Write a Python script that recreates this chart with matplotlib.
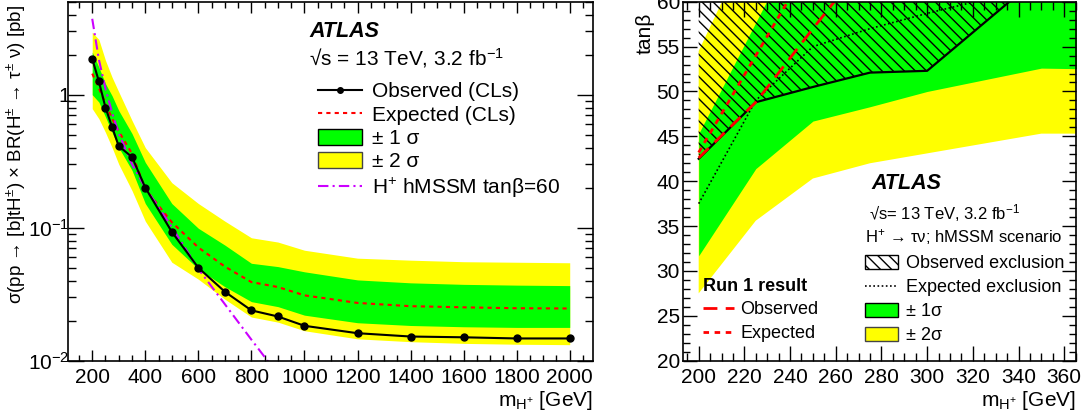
import matplotlib
matplotlib.use("Agg")
import matplotlib.pyplot as plt
from matplotlib.lines import Line2D
from matplotlib.patches import Patch
from matplotlib.ticker import MultipleLocator, FixedLocator, FixedFormatter, LogLocator, NullFormatter

plt.rcParams["font.family"] = ["Liberation Sans", "DejaVu Sans"]
plt.rcParams["mathtext.fontset"] = "custom"
plt.rcParams["mathtext.rm"] = "Liberation Sans"
plt.rcParams["mathtext.it"] = "Liberation Sans:italic"
plt.rcParams["mathtext.bf"] = "Liberation Sans:bold"
plt.rcParams["hatch.linewidth"] = 1.0

GREEN = "#00ff00"
YELLOW = "#ffff00"

# --- cross-section x BR upper limits [pb] vs charged Higgs mass [GeV] ---
mass = [200, 225, 250, 275, 300, 350, 400, 500, 600, 700, 800, 900, 1000, 1200, 1400, 1600, 1800, 2000]
obs_xsec = [1.86, 1.26, 0.80, 0.57, 0.41, 0.34, 0.20, 0.093, 0.050, 0.033, 0.0239, 0.0215, 0.0183,
            0.0161, 0.0152, 0.0150, 0.0147, 0.0147]
exp_xsec = [1.44, 1.12, 0.86, 0.66, 0.53, 0.36, 0.195, 0.110, 0.071, 0.051, 0.039, 0.0358, 0.031,
            0.0272, 0.0257, 0.0252, 0.0248, 0.0247]
exp_plus1 = [2.09, 1.61, 1.21, 0.98, 0.76, 0.51, 0.31, 0.152, 0.099, 0.074, 0.054, 0.051, 0.0466,
             0.0405, 0.0385, 0.0375, 0.037, 0.0367]
exp_minus1 = [1.00, 0.88, 0.68, 0.52, 0.40, 0.27, 0.152, 0.075, 0.049, 0.036, 0.0278, 0.0255, 0.0220,
              0.0193, 0.0184, 0.0180, 0.0178, 0.0178]
exp_plus2 = [2.95, 2.60, 1.81, 1.35, 1.05, 0.64, 0.40, 0.218, 0.152, 0.112, 0.084, 0.078, 0.0677,
             0.059, 0.057, 0.0555, 0.055, 0.0545]
exp_minus2 = [0.785, 0.66, 0.52, 0.40, 0.30, 0.19, 0.112, 0.055, 0.0410, 0.029, 0.0213, 0.0195, 0.0168,
              0.0146, 0.0139, 0.0135, 0.0133, 0.0132]

# hMSSM prediction at tan(beta) = 60
hmssm_mass = [200, 225, 250, 275, 300, 350, 400, 500, 600, 700, 800, 900]
hmssm_xsec = [3.72, 1.84, 1.11, 0.73, 0.51, 0.30, 0.20, 0.101, 0.049, 0.0266, 0.0144, 0.0079]

# --- tan(beta) exclusion in the hMSSM ---
mass_tb = [200, 225, 250, 275, 300, 350, 400]
obs_tb = [42.5, 48.8, 50.5, 52.1, 52.3, 63.0, 70.0]
exp_tb = [37.5, 49.0, 55.0, 57.0, 58.7, 61.8, 64.0]
exp_tb_plus1 = [45.3, 57.7, 70.0, 72.0, 74.0, 76.0, 78.0]
exp_tb_minus1 = [31.7, 41.4, 46.7, 48.3, 50.0, 52.6, 52.4]
exp_tb_plus2 = [54.5, 68.0, 80.0, 82.0, 84.0, 86.0, 88.0]
exp_tb_minus2 = [27.5, 35.6, 40.3, 42.0, 43.1, 45.3, 45.3]

run1_mass = [200, 225, 250, 275]
run1_obs = [42.6, 48.8, 57.0, 65.0]
run1_exp_mass = [200, 225, 250]
run1_exp = [43.2, 54.0, 64.8]


def root_ticks(ax, major_len, minor_len, xmaj_len=None, xmin_len=None, ypad=2):
    ax.tick_params(which="both", direction="in", top=True, right=True, labelsize=15, width=1.0)
    ax.tick_params(axis="y", which="major", length=major_len, pad=ypad)
    ax.tick_params(axis="y", which="minor", length=minor_len)
    ax.tick_params(axis="x", which="major", length=xmaj_len or major_len, pad=5)
    ax.tick_params(axis="x", which="minor", length=xmin_len or minor_len)
    for s in ax.spines.values():
        s.set_linewidth(1.2)


fig = plt.figure(figsize=(10.85, 4.16), dpi=100)
ax1 = fig.add_axes([0.0630, 0.1329, 0.4836, 0.8630])
ax2 = fig.add_axes([0.6292, 0.1329, 0.3622, 0.8630])

# ---------------- left: cross-section limit ----------------
ax1.fill_between(mass, exp_minus2, exp_plus2, color=YELLOW, lw=0)
ax1.fill_between(mass, exp_minus1, exp_plus1, color=GREEN, lw=0)
ax1.plot(mass, exp_xsec, color="red", ls=(0, (2, 2)), lw=1.5)
ax1.plot(hmssm_mass, hmssm_xsec, color="#cc00ff", ls=(0, (5, 2, 1, 2)), lw=1.5)
ax1.plot(mass, obs_xsec, color="black", lw=1.5, marker="o", ms=5)

ax1.set_yscale("log")
ax1.set_xlim(110, 2088)
ax1.set_ylim(0.01, 5)
ax1.xaxis.set_major_locator(MultipleLocator(200))
ax1.xaxis.set_minor_locator(MultipleLocator(50))
ax1.yaxis.set_major_locator(FixedLocator([0.01, 0.1, 1]))
ax1.yaxis.set_major_formatter(FixedFormatter([r"$10^{-2}$", r"$10^{-1}$", "1"]))
ax1.yaxis.set_minor_locator(LogLocator(base=10, subs=range(2, 10)))
ax1.yaxis.set_minor_formatter(NullFormatter())
root_ticks(ax1, 11.5, 5.8, 8, 4, ypad=-1)

ax1.set_xlabel(r"m$_{\mathregular{H^{+}}}$ [GeV]", fontsize=15, loc="right", labelpad=2)
ax1.set_ylabel(r"σ(pp → [b]tH$^{\pm}$) × BR(H$^{\pm}$ → τ$^{\pm}$ ν) [pb]", fontsize=13.5, loc="top")
ax1.yaxis.set_label_coords(-0.077, 0.99)

ax1.text(0.459, 0.918, "ATLAS", transform=ax1.transAxes, fontsize=15.5,
         fontweight="bold", fontstyle="italic", va="center")
ax1.text(0.459, 0.843, r"√s = 13 TeV, 3.2 fb$^{-1}$", transform=ax1.transAxes, fontsize=15, va="center")

handles1 = [
    Line2D([], [], color="black", lw=1.5, marker="o", ms=4),
    Line2D([], [], color="red", ls=(0, (2, 2)), lw=1.5),
    Patch(facecolor=GREEN, edgecolor="black", lw=1.0),
    Patch(facecolor=YELLOW, edgecolor="#444444", lw=1.0),
    Line2D([], [], color="#cc00ff", ls=(0, (5, 2, 1, 2)), lw=1.5),
]
labels1 = ["Observed (CLs)", "Expected (CLs)", "± 1 σ", "± 2 σ", r"H$^{+}$ hMSSM tanβ=60"]
ax1.legend(handles1, labels1, loc="upper left", bbox_to_anchor=(318 / 1085, 1 - 82 / 416),
           bbox_transform=fig.transFigure, frameon=False, fontsize=15, handlelength=2.1,
           handleheight=0.8, handletextpad=0.5, labelspacing=0.2, borderpad=0, borderaxespad=0)

# ---------------- right: tan(beta) exclusion ----------------
ax2.fill_between(mass_tb, exp_tb_minus2, exp_tb_plus2, color=YELLOW, lw=0)
ax2.fill_between(mass_tb, exp_tb_minus1, exp_tb_plus1, color=GREEN, lw=0)
ax2.fill_between(mass_tb, obs_tb, [80] * len(mass_tb), facecolor="none", edgecolor="black",
                 hatch="\\\\\\", lw=0)
ax2.plot(mass_tb, exp_tb, color="black", ls=(0, (1, 1.5)), lw=1.2)
ax2.plot(mass_tb, obs_tb, color="black", lw=1.6)
ax2.plot(run1_mass, run1_obs, color="red", ls=(0, (5, 3)), lw=2)
ax2.plot(run1_exp_mass, run1_exp, color="red", ls=(0, (2, 2)), lw=2)

ax2.set_xlim(193, 365)
ax2.set_ylim(20, 60)
ax2.xaxis.set_major_locator(MultipleLocator(20))
ax2.xaxis.set_minor_locator(MultipleLocator(5))
ax2.yaxis.set_major_locator(MultipleLocator(5))
ax2.yaxis.set_minor_locator(MultipleLocator(1))
root_ticks(ax2, 10, 5, 11, 5.5)

ax2.set_xlabel(r"m$_{\mathregular{H^{+}}}$ [GeV]", fontsize=15, loc="right", labelpad=2)
ax2.set_ylabel("tanβ", fontsize=15, loc="top")
ax2.yaxis.set_label_coords(-0.072, 0.97)

ax2.text(0.481, 0.495, "ATLAS", transform=ax2.transAxes, fontsize=15.5,
         fontweight="bold", fontstyle="italic", va="center")
ax2.text(0.474, 0.410, r"√s= 13 TeV, 3.2 fb$^{-1}$", transform=ax2.transAxes, fontsize=12, va="center")
ax2.text(0.464, 0.345, r"H$^{+}$ → τν; hMSSM scenario", transform=ax2.transAxes, fontsize=12, va="center")

handles2 = [
    Patch(facecolor="white", edgecolor="black", hatch="\\\\\\", lw=1.0),
    Line2D([], [], color="black", ls=(0, (1, 1.5)), lw=1.2),
    Patch(facecolor=GREEN, edgecolor="black", lw=1.0),
    Patch(facecolor=YELLOW, edgecolor="#444444", lw=1.0),
]
labels2 = ["Observed exclusion", "Expected exclusion", "± 1σ", "± 2σ"]
ax2.legend(handles2, labels2, loc="upper left", bbox_to_anchor=(865 / 1085, 1 - 255 / 416),
           bbox_transform=fig.transFigure, frameon=False, fontsize=13, handlelength=1.85,
           handleheight=0.85, handletextpad=0.4, labelspacing=0.36, borderpad=0, borderaxespad=0)

leg_run1 = Line2D([], [], color="red", ls=(0, (5, 3)), lw=2)
leg_run1_exp = Line2D([], [], color="red", ls=(0, (2, 2)), lw=2)
run1_legend = fig.legend([leg_run1, leg_run1_exp], ["Observed", "Expected"], loc="upper left",
                         bbox_to_anchor=(703 / 1085, 1 - 278 / 416), frameon=False, fontsize=13,
                         title="Run 1 result", title_fontproperties={"weight": "bold", "size": 13},
                         alignment="left", handlelength=1.7, handletextpad=0.35, labelspacing=0.36,
                         borderpad=0, borderaxespad=0)

fig.savefig("out.png", dpi=100)
